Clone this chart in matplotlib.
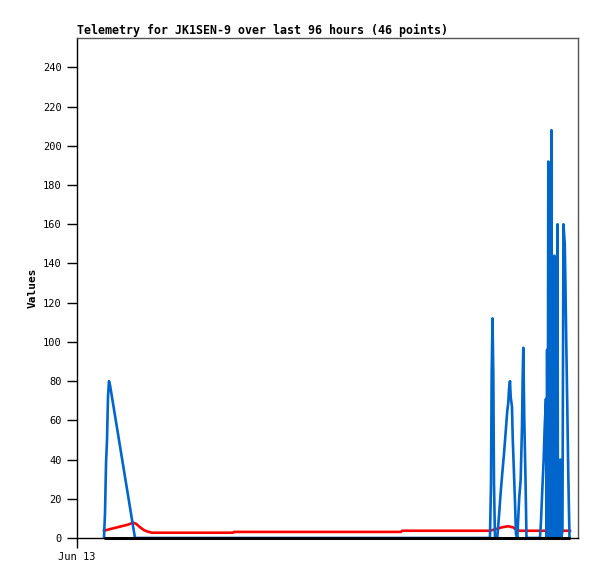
import matplotlib
matplotlib.use('Agg')
import matplotlib.pyplot as plt

# hours since Jun 13 00:00 (96 hour window)
blue_h = [5.17, 5.37, 5.56, 5.75, 5.94, 6.13, 6.32, 6.51, 11.11,
          79.13, 79.33, 79.46, 79.62, 79.77, 79.90, 80.09,
          80.53, 80.91, 81.18, 81.49, 81.82, 82.14, 82.45, 82.64, 82.78, 82.97,
          83.10, 83.35, 83.48, 83.73, 83.92, 84.11,
          84.37, 84.56, 84.75, 85.02, 85.27, 85.40, 85.52, 85.71, 85.94, 86.13,
          88.71, 88.90, 89.15, 89.42, 89.61, 89.86, 90.00, 90.08, 90.20, 90.31,
          90.40, 90.50, 90.58, 90.66, 90.75, 90.84, 90.92, 91.00, 91.07, 91.14,
          91.21, 91.30, 91.38, 91.46, 91.55, 91.65, 91.72, 91.78, 91.87, 91.95,
          92.07, 92.16, 92.26, 92.45, 92.64, 92.83, 93.02, 93.21, 93.46, 93.60,
          93.75, 93.93, 94.14, 94.37]
blue_v = [0, 13, 38, 50, 72, 80, 78, 75, 0,
          0, 28, 84, 112, 84, 28, 0,
          0, 13, 23, 33, 43, 54, 65, 69, 76, 80,
          72, 67, 52, 33, 19, 2,
          0, 11, 21, 30, 57, 82, 97, 60, 30, 0,
          0, 8, 24, 40, 56, 71, 0, 96, 0, 192,
          0, 60, 0, 100, 0, 120, 208, 0, 90, 0,
          104, 0, 120, 144, 0, 80, 0, 60, 0, 100,
          160, 0, 20, 0, 40, 0, 4, 160, 150, 128,
          100, 70, 32, 0]

red_h = [5.17, 6.71, 8.24, 9.77, 10.73, 11.30, 12.07, 12.84, 13.60, 14.37,
         29.89, 30.08, 62.08, 62.27, 79.13, 80.09, 81.37, 82.64, 83.60,
         84.25, 84.88, 94.46]
red_v = [3.7, 4.8, 5.8, 6.8, 7.8, 7.3, 5.5, 4.0, 3.2, 2.7,
         2.7, 3.1, 3.1, 3.7, 3.7, 4.4, 5.4, 6.0, 5.4,
         4.0, 3.7, 3.7]

black_h = [5.17, 94.46]
black_v = [0, 0]

title = 'Telemetry for JK1SEN-9 over last 96 hours (46 points)'
yticks = list(range(0, 241, 20))

plt.rcParams['font.family'] = ['DejaVu Sans Mono']

fig = plt.figure(figsize=(5.97, 5.79), dpi=100)
ax = fig.add_axes([77/597, 1 - 538/579, 501/597, 500/579])

ax.plot(red_h, red_v, color='#ff0000', lw=1.9, zorder=2)
ax.plot(blue_h, blue_v, color='#0066cc', lw=1.9, zorder=3)
ax.plot(black_h, black_v, color='black', lw=2.2, zorder=4,
        solid_capstyle='butt', clip_on=False)

ax.set_xlim(0, 96)
ax.set_ylim(0, 255)
ax.set_yticks(yticks)
ax.set_yticklabels([str(t) for t in yticks], fontsize=7.5)
ax.set_xticks([0])
ax.set_xticklabels(['Jun 13'], fontsize=7.5)
ax.tick_params(direction='out', length=7, width=1, color='black')
ax.tick_params(axis='y', pad=4)
ax.tick_params(axis='x', pad=3)

for s in ['top', 'right']:
    ax.spines[s].set_color('#555555')
for s in ['left', 'bottom']:
    ax.spines[s].set_color('black')
for s in ax.spines.values():
    s.set_linewidth(1)

ax.set_ylabel('Values', fontsize=8, fontweight='bold', labelpad=4)
ax.set_title(title, loc='left', fontsize=8.4, fontweight='bold', pad=3)

fig.savefig('out.png', dpi=100, facecolor='white')
